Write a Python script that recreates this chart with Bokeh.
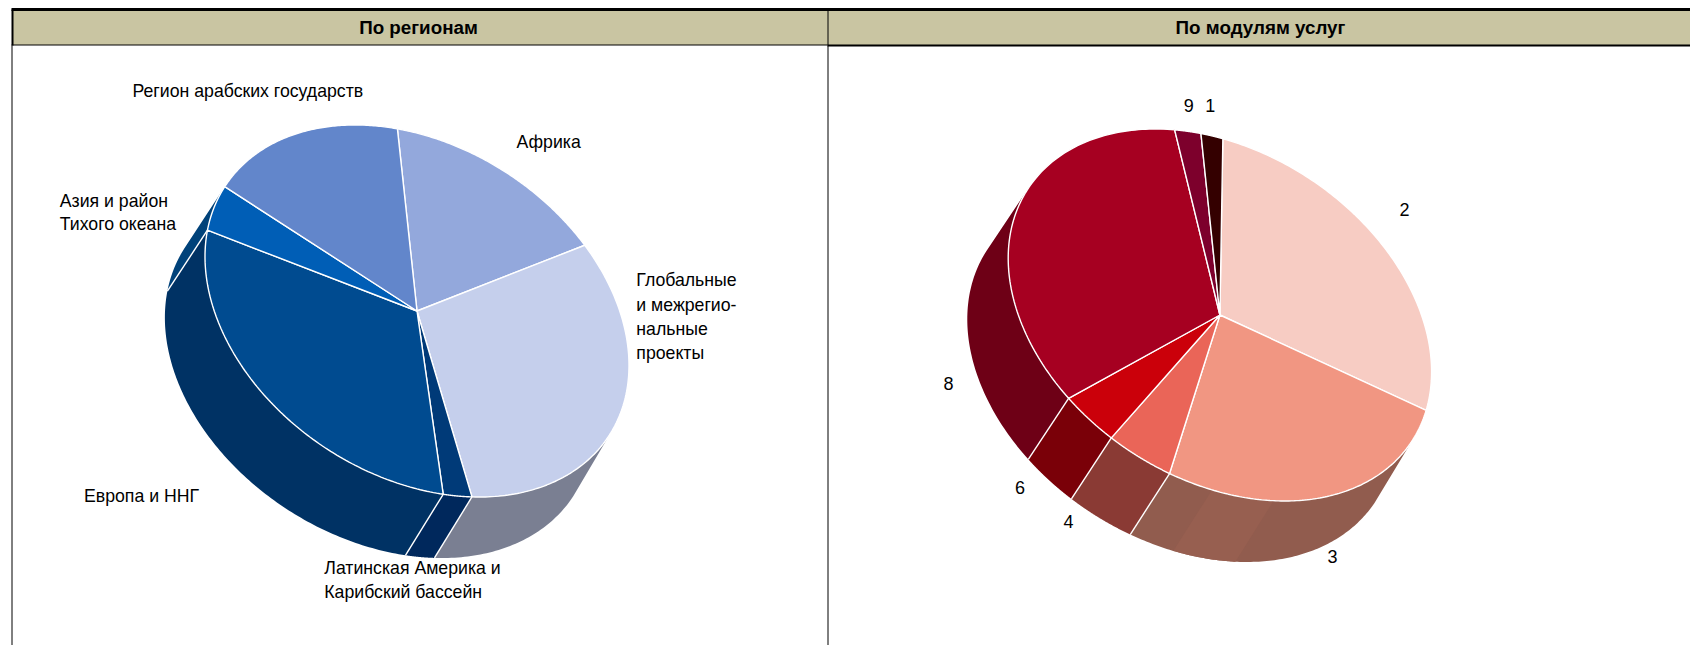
import numpy as np
from bokeh.plotting import figure
from bokeh.models import Range1d
from bokeh.core.properties import value
from bokeh.embed import file_html
from bokeh.resources import INLINE

# ---- data (shares in %) ----
region_names = ["Африка", "Глобальные и межрегиональные проекты", "Латинская Америка и Карибский бассейн",
                "Европа и ННГ", "Азия и район Тихого океана", "Регион арабских государств"]
region_values = [16.0, 31.3, 2.2, 29.4, 4.5, 16.6]
region_top = ["#93a8dc", "#c5cfec", "#003a78", "#004b90", "#005eb6", "#6286cb"]
region_wall = ["#6c7ca0", "#7a7f92", "#00285c", "#003264", "#00427a", "#4a6496"]

module_names = ["2", "3", "4", "6", "8", "9", "1"]
module_values = [28.4, 25.2, 4.75, 4.1, 33.9, 2.0, 1.65]
module_top = ["#f7ccc3", "#f19682", "#ea6558", "#cb000a", "#a60021", "#7d002c", "#340000"]
module_wall = ["#a08a84", "#915c4e", "#8a3a34", "#7a0008", "#6e0016", "#560020", "#200000"]

headers = ["По регионам", "По модулям услуг"]
region_labels = [("Регион арабских государств", 132, 90.7), ("Африка", 516, 141.7),
                 ("Азия и район", 59.3, 200), ("Тихого океана", 59.3, 223.7),
                 ("Глобальные", 635.8, 279.7), ("и межрегио-", 635.8, 304),
                 ("нальные", 635.8, 328.3), ("проекты", 635.8, 352.7),
                 ("Европа и ННГ", 83.5, 495.3),
                 ("Латинская Америка и", 323.8, 567.7), ("Карибский бассейн", 323.8, 591.7)]
module_labels = [("9", 1188.2, 105), ("1", 1209.8, 105), ("2", 1404, 208.8), ("8", 948, 383),
                 ("6", 1019.6, 486.5), ("4", 1068, 520.8), ("3", 1332, 555.8)]

FONT = value("Liberation Sans")
W, H = 1690, 645
p = figure(width=W, height=H, x_range=Range1d(0, W), y_range=Range1d(H, 0),
           output_backend="svg", toolbar_location=None, min_border=0)
p.axis.visible = False
p.grid.visible = False
p.outline_line_color = None
p.background_fill_color = "white"
p.border_fill_color = "white"


def draw_pie(values, top, wall, centre, mat, offset, start, bands=()):
    cx, cy = centre
    ox, oy = offset
    mat = np.array(mat, dtype=float)
    inv_off = np.linalg.solve(mat, np.array([ox, oy], dtype=float))
    edges = start + np.cumsum([0] + list(values)) * 3.6
    stretch = 1.01

    def arcs(th):
        dx = mat[0, 0] * np.cos(th) + mat[0, 1] * np.sin(th)
        dy = mat[1, 0] * np.cos(th) + mat[1, 1] * np.sin(th)
        return cx + dx, cy + dy, cx + ox + stretch * dx, cy + oy + dy

    wx, wy, wc = [], [], []
    tx, ty, tc = [], [], []
    for i, col in enumerate(top):
        th = np.radians(np.linspace(edges[i], edges[i + 1], 120))
        ax, ay, bx, by = arcs(th)
        tx.append(np.r_[cx, ax].tolist())
        ty.append(np.r_[cy, ay].tolist())
        tc.append(col)
        vis = np.cos(th) * inv_off[0] + np.sin(th) * inv_off[1] > 0
        if vis.sum() > 1:
            wx.append(np.r_[ax[vis], bx[vis][::-1]].tolist())
            wy.append(np.r_[ay[vis], by[vis][::-1]].tolist())
            wc.append(wall[i])
    p.patches(wx, wy, fill_color=wc, line_color=None)
    for a0, a1, col in bands:
        ax, ay, bx, by = arcs(np.radians(np.linspace(a0, a1, 40)))
        p.patch(np.r_[ax, bx[::-1]], np.r_[ay, by[::-1]], fill_color=col, line_color=None)
    # white seams between neighbouring wall pieces
    th = np.radians(edges[:-1])
    front = np.cos(th) * inv_off[0] + np.sin(th) * inv_off[1] > 0
    ax, ay, bx, by = arcs(th[front])
    p.segment(ax, ay, bx, by, line_color="white", line_width=1.4)
    p.patches(tx, ty, fill_color=tc, line_color="white", line_width=1.4)


draw_pie(region_values, region_top, region_wall, (416.5, 310.5), [[212, 0], [54.4, 177.9]], (-38, 61), -95.3)
draw_pie(module_values, module_top, module_wall, (1219.4, 314.5), [[211.7, 0], [56.8, 177.1]], (-38.8, 61), -89.2,
         bands=[(75.3, 92.1, "#975f50")])

# table frame
p.quad(left=[12], right=[W], top=[9], bottom=[44.5], fill_color="#c9c5a2", line_color=None)
p.segment(x0=[11, 11, 827], y0=[9, 44.5, 45], x1=[W, 827, W], y1=[9, 44.5, 45],
          line_color="black", line_width=[3, 1, 2])
p.segment(x0=[12, 11.5, 827.5, 827.5], y0=[9, 45, 9, 45], x1=[12, 11.5, 827.5, 827.5], y1=[45, H, 45, H],
          line_color="black", line_width=[2, 1, 1, 1])

p.text([418, 1260], [27, 27], text=headers, text_font=FONT, text_font_style="bold", text_font_size="18.8px",
       text_align="center", text_baseline="middle", text_color="black")
p.text([r[1] for r in region_labels], [r[2] for r in region_labels], text=[r[0] for r in region_labels],
       text_font=FONT, text_font_size="17.7px", text_align="left", text_baseline="middle", text_color="black")
p.text([r[1] for r in module_labels], [r[2] for r in module_labels], text=[r[0] for r in module_labels],
       text_font=FONT, text_font_size="18px", text_align="center", text_baseline="middle", text_color="black")

open("out.html", "w").write(file_html(p, INLINE))
